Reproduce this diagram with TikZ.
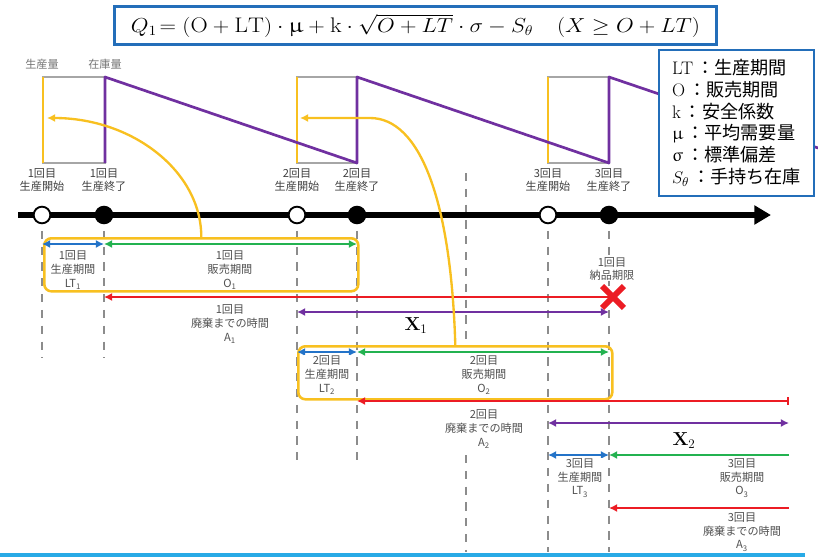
\documentclass[tikz,border=0pt]{standalone}
\usepackage{fontspec}
\usepackage{amsmath}
\usepackage{amssymb}
\usepackage{upgreek}
\usepackage{graphicx}
\usepackage{xcolor}
\newfontfamily\cjk{Noto Sans CJK JP}
\usetikzlibrary{arrows.meta,shapes.misc}

\definecolor{cycyellow}{RGB}{248,192,32}
\definecolor{stockpurple}{RGB}{112,48,160}
\definecolor{prodblue}{RGB}{35,115,200}
\definecolor{salegreen}{RGB}{35,178,80}
\definecolor{lossred}{RGB}{236,28,36}
\definecolor{frameblue}{RGB}{35,110,185}
\definecolor{txtgray}{RGB}{80,80,80}
\definecolor{stripblue}{RGB}{40,170,230}

\tikzset{
  opendot/.style={circle,draw,line width=1.6pt,fill=white,minimum size=0.5cm,inner sep=0pt},
  fulldot/.style={circle,draw,line width=1.6pt,fill=black,minimum size=0.5cm,inner sep=0pt},
  eventline/.style={draw=black!45,line width=1.8pt,dash pattern=on 7pt off 6.5pt},
  timeline/.style={line width=4.5pt,-{Triangle[length=0.5cm,width=0.55cm]}},
  lbl/.style={font=\cjk\fontsize{9.5}{11.6}\selectfont,text=txtgray,align=center,inner sep=0.5pt,fill=white},
  eventlbl/.style={font=\cjk\fontsize{9.5}{11.6}\selectfont,text=black!75,align=center,inner sep=0.5pt},
  axislbl/.style={font=\cjk\fontsize{9.5}{11.6}\selectfont,text=black!55,inner sep=0.5pt},
  onehead/.style={-{Latex[length=7pt,width=7pt]}},
  twoheads/.style={{Latex[length=7pt,width=7pt]}-{Latex[length=7pt,width=7pt]}},
  prodline/.style={draw=prodblue,line width=2pt},
  saleline/.style={draw=salegreen,line width=2pt},
  lossline/.style={draw=lossred,line width=2pt},
  gapline/.style={draw=stockpurple,line width=2pt},
  periodbox/.style={draw=cycyellow,line width=2.2pt,rounded corners=6pt,anchor=north west,
    minimum width=9.42cm,minimum height=1.59cm,inner sep=0pt},
  backarrow/.style={draw=cycyellow,line width=2pt,-{Latex[length=7pt,width=7pt]}},
  gaplbl/.style={font=\fontsize{16}{18}\selectfont,inner sep=1pt}
}

\begin{document}
\begin{tikzpicture}[x=0.03cm,y=-0.03cm]
\useasboundingbox (0,0) rectangle (818,557);

\coordinate (tstart) at (18,215);
\coordinate (tend) at (771,215);
\coordinate (far) at (789,215);
\coordinate (s1) at (42,215);
\coordinate (e1) at (104,215);
\coordinate (s2) at (297,215);
\coordinate (e2) at (357,215);
\coordinate (s3) at (548,215);
\coordinate (e3) at (609,215);
\coordinate (midtop) at (466,173);
\coordinate (midcut) at (466,345);
\coordinate (midresume) at (466,455);
\coordinate (midbot) at (466,552);
\coordinate (low1) at (0,358);
\coordinate (low2) at (0,460);
\coordinate (low3) at (0,552);
\coordinate (rowA) at (0,244);
\coordinate (rowX1) at (0,312);
\coordinate (rowB) at (0,352);
\coordinate (rowR2) at (0,401);
\coordinate (rowX2) at (0,423);
\coordinate (rowC) at (0,455);
\coordinate (rowR3) at (0,508);
\coordinate (peak1) at (47,118);
\coordinate (peak2) at (300,118);

\draw[draw=black!35,line width=1pt] (43,77) rectangle (105,163);
\draw[draw=black!35,line width=1pt] (297,77) rectangle (357,163);
\draw[draw=black!35,line width=1pt] (548,77) rectangle (609,163);
\draw[draw=cycyellow,line width=2pt] (43,163) -- (43,77);
\draw[draw=cycyellow,line width=2pt] (297,163) -- (297,77);
\draw[draw=cycyellow,line width=2pt] (548,163) -- (548,77);
\draw[draw=stockpurple,line width=2.3pt,line join=round]
  (105,163) -- (105,77) -- (357,163) -- (357,77) -- (609,163) -- (609,77) -- (818,148);
\draw (42,64) node[axislbl](prodqty) {生産量};
\draw (105,64) node[axislbl](stockqty) {在庫量};

\draw[eventline] (s1) -- (s1 |- low1);
\draw[eventline] (e1) -- (e1 |- low1);
\draw[eventline] (s2) -- (s2 |- low2);
\draw[eventline] (e2) -- (e2 |- low2);
\draw[eventline] (s3) -- (s3 |- low3);
\draw[eventline] (e3) -- (e3 |- low3);
\draw[eventline] (midtop) -- (midcut);
\draw[eventline] (midresume) -- (midbot);

\draw[timeline] (tstart) -- (tend);
\node[opendot] (start1) at (s1) {};
\node[fulldot] (end1) at (e1) {};
\node[opendot] (start2) at (s2) {};
\node[fulldot] (end2) at (e2) {};
\node[opendot] (start3) at (s3) {};
\node[fulldot] (end3) at (e3) {};

\draw (42,180) node[eventlbl](lblstart1) {1回目\\生産開始};
\draw (104,180) node[eventlbl](lblend1) {1回目\\生産終了};
\draw (297,180) node[eventlbl](lblstart2) {2回目\\生産開始};
\draw (357,180) node[eventlbl](lblend2) {2回目\\生産終了};
\draw (548,180) node[eventlbl](lblstart3) {3回目\\生産開始};
\draw (609,180) node[eventlbl](lblend3) {3回目\\生産終了};

\node[periodbox] (cycle1) at (43,237) {};
\node[periodbox] (cycle2) at (297,345) {};

\draw[prodline,twoheads] (start1 |- rowA) -- (end1 |- rowA);
\draw[saleline,twoheads] (end1 |- rowA) -- (end2 |- rowA);
\draw[prodline,twoheads] (start2 |- rowB) -- (end2 |- rowB);
\draw[saleline,twoheads] (end2 |- rowB) -- (end3 |- rowB);
\draw[prodline,twoheads] (start3 |- rowC) -- (end3 |- rowC);
\draw[saleline,onehead] (far |- rowC) -- (end3 |- rowC);

\draw[lossline,onehead] (613,297) coordinate (limitpt) -- (end1 |- limitpt);
\draw[lossline,{Latex[length=7pt,width=7pt]}-{Bar[width=6pt]}] (end2 |- rowR2) -- (far |- rowR2);
\draw[lossline,onehead] (far |- rowR3) -- (end3 |- rowR3);
\node[cross out,draw=lossred,line width=5pt,minimum size=0.48cm,inner sep=0pt] (limit1) at (limitpt) {};

\draw[gapline,twoheads] (start2 |- rowX1) -- (end3 |- rowX1);
\draw[gapline,twoheads] (start3 |- rowX2) -- (far |- rowX2);

\draw (73,270) node[lbl](lt1) {1回目\\生産期間\\LT\textsubscript{1}};
\draw (230,270) node[lbl](o1) {1回目\\販売期間\\O\textsubscript{1}};
\draw (230,324) node[lbl](a1) {1回目\\廃棄までの時間\\A\textsubscript{1}};
\draw (612,269) node[lbl](due1) {1回目\\納品期限};
\draw (327,375) node[lbl](lt2) {2回目\\生産期間\\LT\textsubscript{2}};
\draw (484,375) node[lbl](o2) {2回目\\販売期間\\O\textsubscript{2}};
\draw (484,429) node[lbl](a2) {2回目\\廃棄までの時間\\A\textsubscript{2}};
\draw (580,478) node[lbl](lt3) {3回目\\生産期間\\LT\textsubscript{3}};
\draw (742,478) node[lbl](o3) {3回目\\販売期間\\O\textsubscript{3}};
\draw (742,532) node[lbl](a3) {3回目\\廃棄までの時間\\A\textsubscript{3}};

\draw (416,326) node[gaplbl](gap1) {\textbf{X}\textsubscript{1}};
\draw (684,441) node[gaplbl](gap2) {\textbf{X}\textsubscript{2}};

\draw[backarrow] (cycle1.north) .. controls +(0,-66) and +(85,0) .. (peak1);
\draw[backarrow] (cycle2.north) .. controls (451,200) and (420,118) .. (370,118) -- (peak2);

\node[draw=frameblue,line width=1.8pt,fill=white,anchor=north west,minimum width=4.65cm,
  minimum height=4.38cm,inner sep=0pt,align=left,font=\fontsize{15.5}{18.5}\selectfont] (legend) at (658,49)
  {LT\,{\cjk ：生産期間}\\
   O\,{\cjk ：販売期間}\\
   k\,{\cjk ：安全係数}\\
   $\upmu$\,{\cjk ：平均需要量}\\
   $\upsigma$\,{\cjk ：標準偏差}\\
   $S_\theta$\,{\cjk ：手持ち在庫}};

\node[draw=frameblue,line width=2.5pt,fill=white,anchor=north west,minimum width=18.06cm,
  minimum height=1.14cm,inner sep=0pt,font=\fontsize{18}{21}\selectfont] (formula) at (113,5)
  {\scalebox{1.13}[1]{$Q_1\!=(\mathrm{O}+\mathrm{LT})\cdot\upmu+\mathrm{k}\cdot\sqrt{O+LT}\cdot\sigma-S_\theta\quad(X\geq O+LT)$}};

\fill[stripblue] (0,553) rectangle (805,557);
\end{tikzpicture}
\end{document}
